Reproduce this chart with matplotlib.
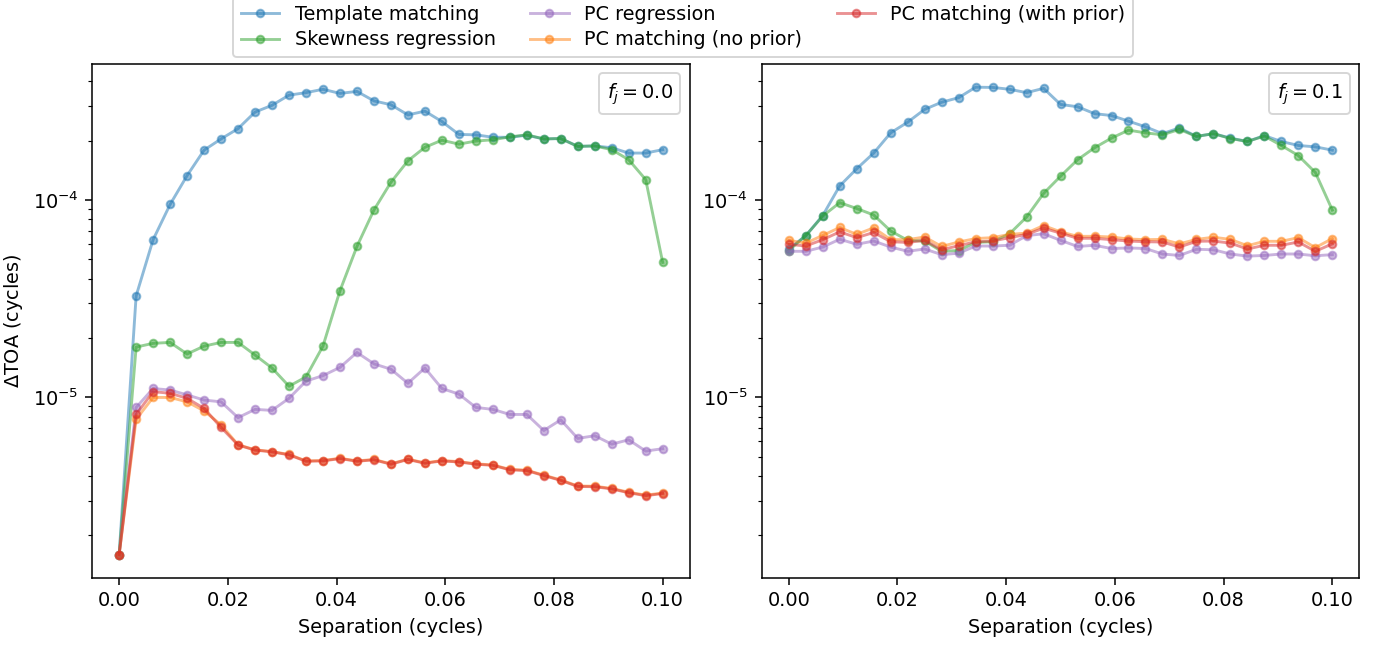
import numpy as np
import matplotlib
matplotlib.use("Agg")
import matplotlib.pyplot as plt
from matplotlib.offsetbox import AnchoredText

# separation grid (cycles), 33 evenly spaced points
sep = np.linspace(0, 0.1, 33)

labels = ["Template matching", "Skewness regression", "PC regression",
          "PC matching (no prior)", "PC matching (with prior)"]
colors = ["C0", "C2", "C4", "C1", "C3"]

# f_j = 0.0
tm0 = [1.6e-6, 3.27e-5, 6.3e-5, 9.5e-5, 1.33e-4, 1.79e-4, 2.04e-4, 2.30e-4, 2.79e-4,
       3.02e-4, 3.40e-4, 3.50e-4, 3.64e-4, 3.47e-4, 3.55e-4, 3.18e-4, 3.04e-4, 2.70e-4,
       2.82e-4, 2.50e-4, 2.15e-4, 2.14e-4, 2.08e-4, 2.08e-4, 2.13e-4, 2.04e-4, 2.05e-4,
       1.87e-4, 1.88e-4, 1.84e-4, 1.73e-4, 1.73e-4, 1.80e-4]
sk0 = [1.6e-6, 1.80e-5, 1.88e-5, 1.90e-5, 1.66e-5, 1.82e-5, 1.90e-5, 1.90e-5, 1.64e-5,
       1.41e-5, 1.14e-5, 1.27e-5, 1.82e-5, 3.47e-5, 5.82e-5, 8.9e-5, 1.23e-4, 1.58e-4,
       1.85e-4, 2.01e-4, 1.92e-4, 1.99e-4, 2.02e-4, 2.09e-4, 2.14e-4, 2.04e-4, 2.05e-4,
       1.87e-4, 1.88e-4, 1.80e-4, 1.60e-4, 1.27e-4, 4.83e-5]
pcr0 = [1.6e-6, 8.9e-6, 1.11e-5, 1.09e-5, 1.03e-5, 9.7e-6, 9.5e-6, 7.9e-6, 8.7e-6,
        8.6e-6, 9.9e-6, 1.21e-5, 1.29e-5, 1.42e-5, 1.69e-5, 1.48e-5, 1.39e-5, 1.18e-5,
        1.41e-5, 1.11e-5, 1.04e-5, 8.9e-6, 8.7e-6, 8.2e-6, 8.2e-6, 6.8e-6, 7.7e-6,
        6.2e-6, 6.4e-6, 5.8e-6, 6.1e-6, 5.35e-6, 5.5e-6]
pcn0 = [1.6e-6, 7.75e-6, 1.0e-5, 1.0e-5, 9.5e-6, 8.55e-6, 7.26e-6, 5.76e-6, 5.43e-6,
        5.32e-6, 5.14e-6, 4.77e-6, 4.79e-6, 4.92e-6, 4.77e-6, 4.85e-6, 4.61e-6, 4.87e-6,
        4.66e-6, 4.79e-6, 4.73e-6, 4.61e-6, 4.55e-6, 4.32e-6, 4.28e-6, 4.04e-6, 3.82e-6,
        3.56e-6, 3.55e-6, 3.46e-6, 3.31e-6, 3.20e-6, 3.28e-6]
pcw0 = [1.6e-6, 8.2e-6, 1.07e-5, 1.05e-5, 9.9e-6, 8.8e-6, 7.05e-6, 5.74e-6, 5.41e-6,
        5.3e-6, 5.12e-6, 4.75e-6, 4.77e-6, 4.9e-6, 4.75e-6, 4.83e-6, 4.59e-6, 4.85e-6,
        4.64e-6, 4.77e-6, 4.71e-6, 4.59e-6, 4.53e-6, 4.30e-6, 4.26e-6, 4.02e-6, 3.80e-6,
        3.54e-6, 3.53e-6, 3.44e-6, 3.29e-6, 3.18e-6, 3.26e-6]

# f_j = 0.1
tm1 = [5.65e-5, 6.6e-5, 8.35e-5, 1.18e-4, 1.44e-4, 1.73e-4, 2.19e-4, 2.48e-4, 2.88e-4,
       3.13e-4, 3.30e-4, 3.73e-4, 3.72e-4, 3.64e-4, 3.50e-4, 3.68e-4, 3.05e-4, 2.97e-4,
       2.74e-4, 2.68e-4, 2.51e-4, 2.35e-4, 2.17e-4, 2.32e-4, 2.10e-4, 2.17e-4, 2.06e-4,
       1.98e-4, 2.12e-4, 1.98e-4, 1.89e-4, 1.86e-4, 1.79e-4]
sk1 = [5.55e-5, 6.6e-5, 8.3e-5, 9.7e-5, 9.06e-5, 8.4e-5, 6.97e-5, 6.25e-5, 6.2e-5,
       5.5e-5, 5.55e-5, 6.1e-5, 6.15e-5, 6.75e-5, 8.2e-5, 1.08e-4, 1.32e-4, 1.60e-4,
       1.84e-4, 2.06e-4, 2.26e-4, 2.19e-4, 2.14e-4, 2.28e-4, 2.10e-4, 2.17e-4, 2.05e-4,
       1.98e-4, 2.11e-4, 1.89e-4, 1.68e-4, 1.38e-4, 8.9e-5]
pcr1 = [5.5e-5, 5.5e-5, 5.78e-5, 6.33e-5, 5.97e-5, 6.2e-5, 5.78e-5, 5.5e-5, 5.65e-5,
        5.29e-5, 5.38e-5, 5.85e-5, 5.85e-5, 5.9e-5, 6.6e-5, 6.75e-5, 6.25e-5, 5.82e-5,
        5.9e-5, 5.68e-5, 5.72e-5, 5.68e-5, 5.33e-5, 5.24e-5, 5.63e-5, 5.6e-5, 5.33e-5,
        5.2e-5, 5.24e-5, 5.33e-5, 5.33e-5, 5.22e-5, 5.29e-5]
pcn1 = [6.25e-5, 6.05e-5, 6.62e-5, 7.26e-5, 6.7e-5, 7.23e-5, 6.3e-5, 6.3e-5, 6.5e-5,
        5.82e-5, 6.13e-5, 6.38e-5, 6.45e-5, 6.7e-5, 6.8e-5, 7.43e-5, 6.9e-5, 6.55e-5,
        6.55e-5, 6.5e-5, 6.35e-5, 6.3e-5, 6.32e-5, 6.0e-5, 6.32e-5, 6.48e-5, 6.32e-5,
        5.87e-5, 6.18e-5, 6.18e-5, 6.45e-5, 5.74e-5, 6.38e-5]
pcw1 = [5.97e-5, 5.85e-5, 6.3e-5, 6.9e-5, 6.45e-5, 6.85e-5, 6.15e-5, 6.1e-5, 6.25e-5,
        5.6e-5, 5.87e-5, 6.15e-5, 6.2e-5, 6.45e-5, 6.7e-5, 7.2e-5, 6.8e-5, 6.4e-5,
        6.4e-5, 6.3e-5, 6.2e-5, 6.15e-5, 6.13e-5, 5.78e-5, 6.18e-5, 6.2e-5, 6.05e-5,
        5.65e-5, 5.9e-5, 5.9e-5, 6.13e-5, 5.5e-5, 6.0e-5]

panels = [("0.0", [tm0, sk0, pcr0, pcn0, pcw0]),
          ("0.1", [tm1, sk1, pcr1, pcn1, pcw1])]

fig, axes = plt.subplots(1, 2, figsize=(10, 4.664), dpi=138.3, sharey=True)
fig.subplots_adjust(left=0.0665, right=0.983, bottom=0.104, top=0.901, wspace=0.12)

for ax, (fj, series) in zip(axes, panels):
    for vals, lab, c in zip(series, labels, colors):
        ax.plot(sep, vals, marker="o", ms=4, lw=1.5, alpha=0.5, color=c, label=lab)
    ax.set_yscale("log")
    ax.set_xlabel("Separation (cycles)")
    ax.set_xticks([0.0, 0.02, 0.04, 0.06, 0.08, 0.10])
    ax.tick_params(labelleft=True)
    # little legend-style box with the f_j value
    at = AnchoredText(r"$f_j = %s$" % fj, loc="upper right", pad=0.4, borderpad=0.5,
                      prop=dict(size=10))
    at.patch.set_boxstyle("round,pad=0,rounding_size=0.2")
    at.patch.set_edgecolor("0.8")
    at.patch.set_alpha(0.8)
    ax.add_artist(at)

axes[0].set_ylabel(r"$\Delta$TOA (cycles)")

h, l = axes[0].get_legend_handles_labels()
fig.legend(h, l, loc="lower center", bbox_to_anchor=(0.494, 0.9116), ncol=3,
           borderaxespad=0, labelspacing=0.35, columnspacing=1.8)

fig.savefig("out.png")
